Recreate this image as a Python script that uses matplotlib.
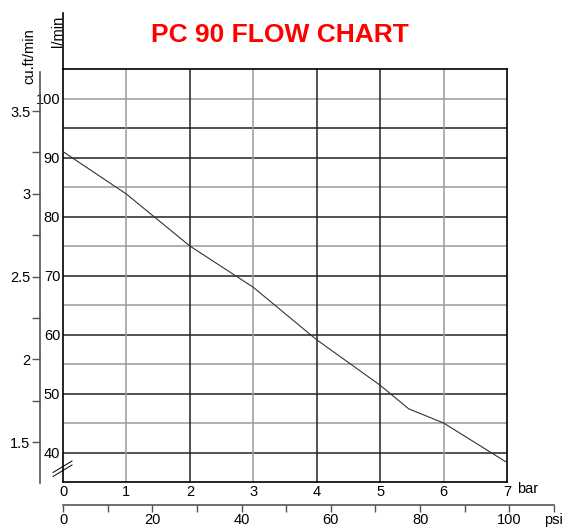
import matplotlib
matplotlib.use("Agg")
import matplotlib.pyplot as plt

# flow curve
bar_pts = [0, 1, 2, 3, 4, 5, 5.45, 6, 7]
flow_lpm = [91.0, 83.8, 75.0, 68.0, 59.1, 51.4, 47.4, 45.0, 38.3]

bar_ticks = [0, 1, 2, 3, 4, 5, 6, 7]
lpm_ticks = [40, 50, 60, 70, 80, 90, 100]
lpm_grid = [40, 45, 50, 55, 60, 65, 70, 75, 80, 85, 90, 95, 100]
cfm_major = [1.5, 2, 2.5, 3, 3.5]
cfm_minor = [1.75, 2.25, 2.75, 3.25]
psi_ticks = [0, 10, 20, 30, 40, 50, 60, 70, 80, 90, 100, 110]
psi_labels = [0, 20, 40, 60, 80, 100]

W, H = 568, 531
DARK = "#222222"
GRAY = "#9a9a9a"
hgrid_col = [DARK, GRAY, DARK, GRAY, DARK, GRAY, DARK, GRAY, DARK, GRAY, DARK, DARK, GRAY]
vgrid_col = [GRAY, DARK, GRAY, DARK, DARK, GRAY]

FONT = ["Liberation Sans", "DejaVu Sans"]
FS = 10.5


def fx(px):
    return px / W


def fy(py):
    return 1 - py / H


fig = plt.figure(figsize=(W / 100, H / 100), dpi=100)

# main chart: l/min vs bar
ax = fig.add_axes([fx(63), fy(482), fx(507) - fx(63), fy(69) - fy(482)])
ax.set_xlim(0, 7)
ax.set_ylim(35, 105)
for v, c in zip(lpm_grid, hgrid_col):
    ax.axhline(v, color=c, lw=1.1, zorder=1)
for v, c in zip(bar_ticks[1:], vgrid_col):
    ax.axvline(v, color=c, lw=1.1, zorder=1)
ax.plot(bar_pts, flow_lpm, color="#333333", lw=0.8, zorder=3)

for s in ax.spines.values():
    s.set_color("black")
    s.set_linewidth(1.2)
ax.set_xticks(bar_ticks)
ax.set_xticklabels([str(b) for b in bar_ticks], family=FONT, fontsize=FS)
ax.set_yticks(lpm_ticks)
ax.set_yticklabels([str(v) for v in lpm_ticks], family=FONT, fontsize=FS)
ax.tick_params(axis="both", length=0, pad=2)
ax.tick_params(axis="y", pad=2)

# left spine goes on above the grid
ax.plot([0, 0], [1, 1.136], transform=ax.transAxes, color="black", lw=1.2, clip_on=False)
# axis break marks
for dy in [0, 4]:
    ax.plot([-10 / 444, 9 / 444], [(482 - 476.5 + dy) / 413, (482 - 465 + dy) / 413],
            transform=ax.transAxes, color="black", lw=0.7, clip_on=False)

# cu.ft/min scale on the far left
axc = fig.add_axes([fx(40), fy(483), 0.0001, fy(72) - fy(483)])
axc.set_ylim(1.253, 3.736)
axc.set_xticks([])
for k in ["top", "right", "bottom"]:
    axc.spines[k].set_visible(False)
axc.spines["left"].set_color("#555555")
axc.spines["left"].set_linewidth(1.2)
axc.set_yticks(cfm_major)
axc.set_yticklabels([str(v) for v in cfm_major], family=FONT, fontsize=FS)
axc.set_yticks(cfm_minor, minor=True)
axc.tick_params(axis="y", which="both", length=6, width=1, color="#555555", pad=1)
axc.patch.set_visible(False)

# psi scale under the bar axis
axp = fig.add_axes([fx(63), fy(505), fx(554) - fx(63), 0.0001])
axp.set_xlim(0, 110)
axp.set_yticks([])
for k in ["top", "right", "left"]:
    axp.spines[k].set_visible(False)
axp.spines["bottom"].set_color("#555555")
axp.spines["bottom"].set_linewidth(1.2)
axp.set_xticks(psi_ticks)
axp.set_xticklabels([str(p) if p in psi_labels else "" for p in psi_ticks],
                    family=FONT, fontsize=FS)
axp.xaxis.set_ticks_position("bottom")
axp.tick_params(axis="x", direction="out", length=5, width=1, color="#555555", pad=1)
axp.patch.set_visible(False)

# labels
fig.text(fx(280), fy(35.5), "PC 90 FLOW CHART", color="red", fontsize=19,
         fontweight="bold", family="Liberation Sans", ha="center", va="center")
fig.text(fx(58), fy(31), "l/min", rotation=90, family=FONT, fontsize=FS,
         ha="center", va="center")
fig.text(fx(29), fy(56), "cu.ft/min", rotation=90, family=FONT, fontsize=FS,
         ha="center", va="center")
fig.text(fx(528), fy(489), "bar", family=FONT, fontsize=FS, ha="center", va="center")
fig.text(fx(553), fy(520), "psi", family=FONT, fontsize=FS, ha="center", va="center")

fig.savefig("out.png", dpi=100)
